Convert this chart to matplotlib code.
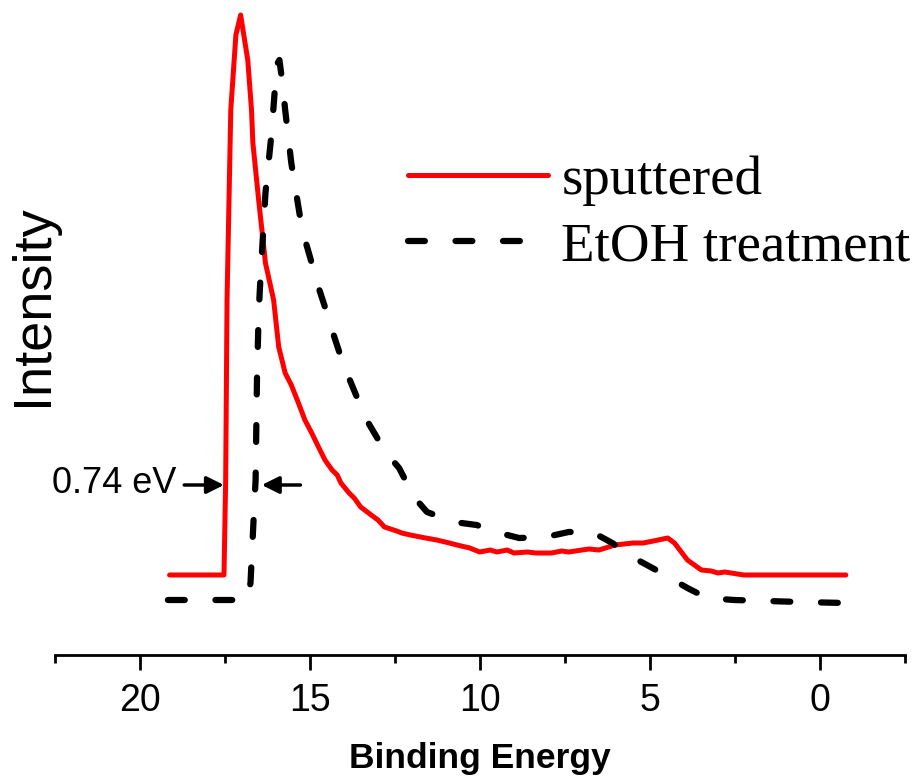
import numpy as np
import matplotlib
matplotlib.use("Agg")
from matplotlib import pyplot as plt

# binding energy (eV) and intensity (a.u.) for the two spectra
be_sput = [19.13, 17.53, 17.48, 17.44, 17.33, 17.18, 17.04, 16.91, 16.83, 16.72,
           16.68, 16.51, 16.31, 16.07, 15.92, 15.73, 15.55, 15.34, 15.15, 14.95,
           14.75, 14.56, 14.35, 14.2, 14.09, 13.85, 13.7, 13.51, 13.2, 13.0,
           12.81, 12.45, 12.3, 12.05, 11.6, 11.27, 10.9, 10.68, 10.3, 10.01,
           9.7, 9.5, 9.2, 9.0, 8.6, 8.36, 7.9, 7.6, 7.39, 6.8, 6.5, 6.03, 5.5,
           5.2, 4.9, 4.48, 4.28, 3.9, 3.49, 3.2, 3.0, 2.8, 2.24, -0.76]
int_sput = [0.80, 0.80, 1.75, 3.55, 5.45, 6.20, 6.40, 6.12, 5.95, 5.45,
            5.12, 4.55, 3.92, 3.55, 3.08, 2.82, 2.70, 2.52, 2.35, 2.22,
            2.08, 1.95, 1.85, 1.80, 1.72, 1.62, 1.57, 1.48, 1.40, 1.35,
            1.28, 1.24, 1.22, 1.20, 1.17, 1.15, 1.12, 1.10, 1.07, 1.03,
            1.05, 1.03, 1.05, 1.02, 1.03, 1.02, 1.02, 1.04, 1.03, 1.06, 1.05,
            1.10, 1.12, 1.12, 1.14, 1.17, 1.12, 0.95, 0.85, 0.84, 0.82, 0.83,
            0.80, 0.80]

be_etoh = [19.18, 16.86, 16.75, 16.65, 16.60, 16.56, 16.51, 16.46, 16.31, 16.13,
           16.02, 15.95, 15.90, 15.81, 15.73, 15.55, 15.34, 15.23, 15.00, 14.82,
           14.56, 14.38, 14.13, 13.89, 13.55, 13.30, 12.78, 12.38, 11.94, 11.56,
           10.77, 10.10, 9.43, 8.85, 8.06, 7.39, 6.70, 6.11, 5.36, 4.66, 3.90,
           3.32, 2.53, 0.58, -0.76]
int_etoh = [0.55, 0.55, 0.72, 1.42, 1.75, 2.75, 3.42, 3.75, 4.62, 5.22,
            5.72, 5.92, 5.95, 5.72, 5.45, 4.92, 4.48, 4.25, 3.98, 3.75,
            3.48, 3.28, 3.02, 2.80, 2.52, 2.33, 2.03, 1.87, 1.58, 1.43,
            1.33, 1.30, 1.22, 1.17, 1.18, 1.23, 1.23, 1.12, 0.95, 0.82, 0.67,
            0.57, 0.55, 0.53, 0.52]

labels = ["sputtered", "EtOH treatment"]
shift_text = "0.74 eV"

fig = plt.figure(figsize=(9.2, 7.78), dpi=100)
ax = fig.add_axes([55 / 920, 1 - 655 / 778, 850 / 920, 655 / 778])

ax.plot(be_sput, int_sput, color="red", lw=3.6, solid_joinstyle="round",
        solid_capstyle="round", label=labels[0])
ax.plot(be_etoh, int_etoh, color="black", lw=4.5, linestyle=(0, (2.7, 4.9)),
        dash_capstyle="round", label=labels[1])

ax.set_xlim(22.5, -2.5)
ax.set_ylim(0, 6.55)

# only the bottom axis is shown
for s in ["left", "right", "top"]:
    ax.spines[s].set_visible(False)
ax.spines["bottom"].set_linewidth(2)
ax.set_yticks([])
ax.set_xticks([20, 15, 10, 5, 0])
ax.set_xticks([22.5, 17.5, 12.5, 7.5, 2.5, -2.5], minor=True)
ax.tick_params(axis="x", which="major", length=11, width=2, pad=9,
               labelsize=27)
ax.tick_params(axis="x", which="minor", length=6, width=2)
for t in ax.get_xticklabels():
    t.set_family("Liberation Sans")

ax.set_xlabel("Binding Energy", fontsize=25.5, fontweight="bold",
              family="Liberation Sans", labelpad=17)
fig.text(33 / 920, 1 - 305 / 778, "Intensity", rotation=90, fontsize=39,
         family="Liberation Sans", ha="center", va="center")

# arrows marking the onset shift
arr = dict(arrowstyle="-|>", color="black", lw=2.5, mutation_scale=26)
ax.annotate("", xy=(17.45, 1.70), xytext=(18.78, 1.70), arrowprops=arr)
ax.annotate("", xy=(16.50, 1.70), xytext=(15.20, 1.70), arrowprops=arr)
ax.text(18.92, 1.72, shift_text, ha="right", va="center", fontsize=26,
        family="Liberation Sans")

leg = ax.legend(loc="upper left", bbox_to_anchor=(0.415, 0.763), frameon=False,
                prop={"family": "Liberation Serif", "size": 39.5},
                handlelength=2.55, handletextpad=0.25, labelspacing=0.3,
                borderpad=0, borderaxespad=0)

fig.savefig("out.png", dpi=100)
